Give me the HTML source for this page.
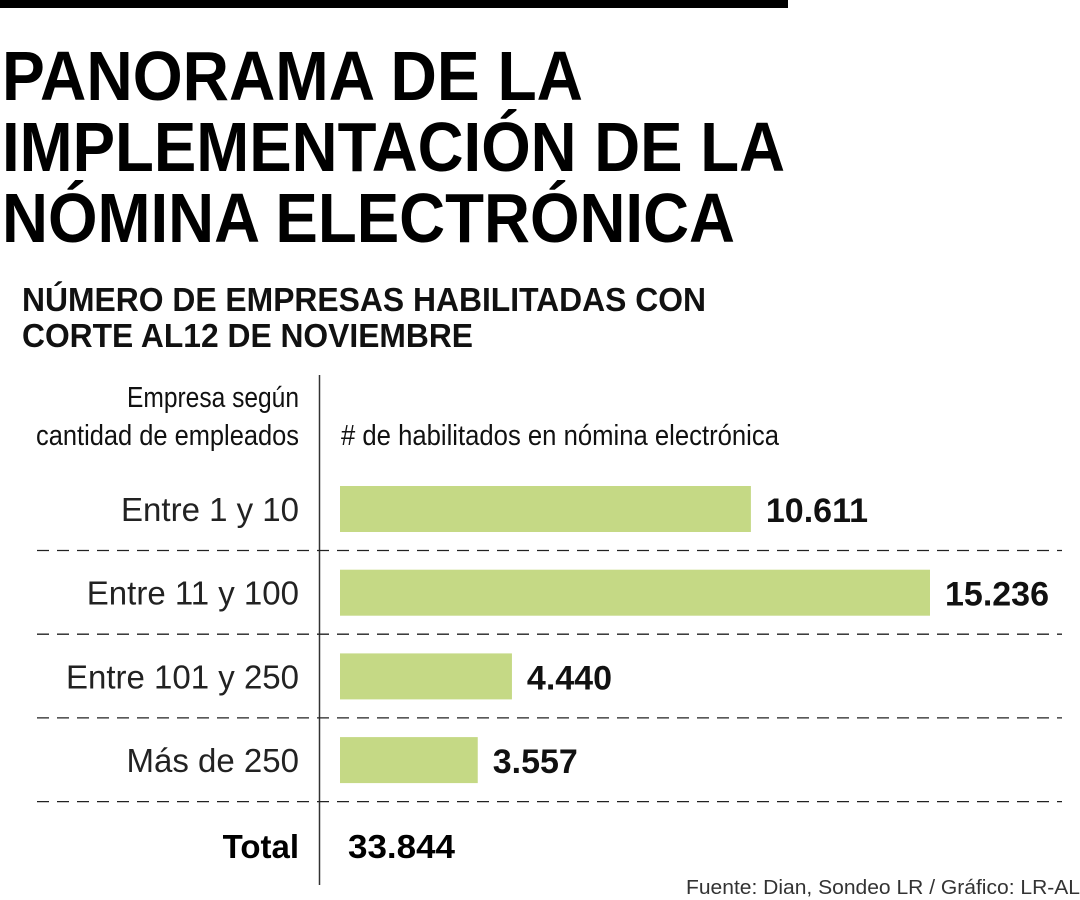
<!DOCTYPE html>
<html><head><meta charset="utf-8"><style>
html,body{margin:0;padding:0;background:#fff;}
svg{display:block;font-family:"Liberation Sans",sans-serif;}
</style></head><body>
<svg id="chart" width="1080" height="900" viewBox="0 0 1080 900">
<rect x="0" y="0" width="788" height="8" fill="#000"/>
<g font-weight="bold" font-size="70" fill="#000">
<text x="2" y="100" textLength="581" lengthAdjust="spacingAndGlyphs">PANORAMA DE LA</text>
<text x="2" y="171" textLength="783" lengthAdjust="spacingAndGlyphs">IMPLEMENTACIÓN DE LA</text>
<text x="2" y="242" textLength="733" lengthAdjust="spacingAndGlyphs">NÓMINA ELECTRÓNICA</text>
</g>
<g font-weight="bold" font-size="33" fill="#111">
<text x="22" y="311" textLength="684" lengthAdjust="spacingAndGlyphs">NÚMERO DE EMPRESAS HABILITADAS CON</text>
<text x="22" y="347" textLength="451" lengthAdjust="spacingAndGlyphs">CORTE AL12 DE NOVIEMBRE</text>
</g>
<g font-size="29" fill="#111">
<text x="299" y="407" text-anchor="end" textLength="172" lengthAdjust="spacingAndGlyphs">Empresa según</text>
<text x="299" y="445" text-anchor="end" textLength="263" lengthAdjust="spacingAndGlyphs">cantidad de empleados</text>
<text x="341" y="445" textLength="438" lengthAdjust="spacingAndGlyphs"># de habilitados en nómina electrónica</text>
</g>
<line x1="319.5" y1="375" x2="319.5" y2="885" stroke="#333" stroke-width="1.5"/>
<g id="rows"></g>
<text x="299" y="858" text-anchor="end" font-size="33" font-weight="bold">Total</text>
<text x="348" y="858" font-size="33" font-weight="bold" textLength="107" lengthAdjust="spacingAndGlyphs">33.844</text>
<text x="1080" y="894" text-anchor="end" font-size="20" fill="#333" textLength="394" lengthAdjust="spacingAndGlyphs">Fuente: Dian, Sondeo LR / Gráfico: LR-AL</text>
</svg>
<script>
const categories = ["Entre 1 y 10", "Entre 11 y 100", "Entre 101 y 250", "Más de 250"];
const values = [10611, 15236, 4440, 3557];
const valueLabels = ["10.611", "15.236", "4.440", "3.557"];

const NS = "http://www.w3.org/2000/svg";
const g = document.getElementById("rows");
const x0 = 340, xMaxPx = 590, vMax = 15236;
const xScale = v => v / vMax * xMaxPx;
const rowTop = 470, rowH = 83.7;
function mk(tag, attrs){const e=document.createElementNS(NS,tag);for(const k in attrs)e.setAttribute(k,attrs[k]);return e;}
categories.forEach((c,i)=>{
  const y = rowTop + i*rowH;
  const bar = mk("rect",{x:x0,y:y+16,width:xScale(values[i]),height:46,fill:"#c5d985"});
  
  
  g.appendChild(bar);
  const lab = mk("text",{x:299,y:y+51,"text-anchor":"end","font-size":33,fill:"#222"});
  lab.textContent = c;
  
  
  g.appendChild(lab);
  const vl = mk("text",{x:x0+xScale(values[i])+15,y:y+52,"font-size":34,"font-weight":"bold",fill:"#111"});
  vl.textContent = valueLabels[i];
  
  
  g.appendChild(vl);
  const dl = mk("line",{x1:37,x2:1062,y1:y+80.5,y2:y+80.5,stroke:"#222","stroke-width":1.3,"stroke-dasharray":"12 8"});
  
  
  g.appendChild(dl);
});
</script>
</body></html>
